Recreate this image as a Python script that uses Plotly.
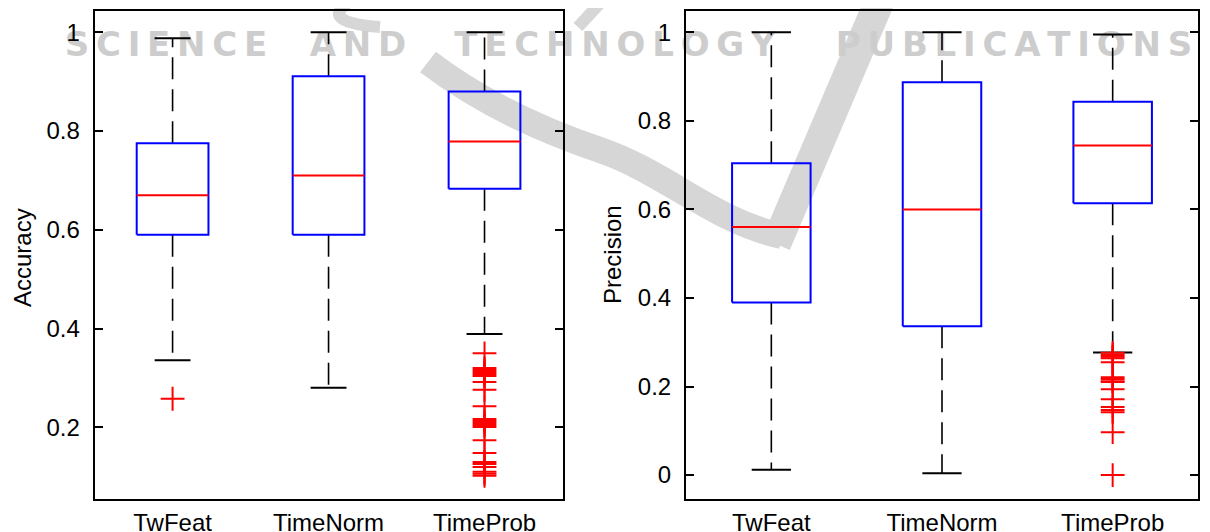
import plotly.graph_objects as go

W, H = 1210, 532          # browser window
OFF = 8                   # default page body margin

# ---------------- data ----------------
categories = ["TwFeat", "TimeNorm", "TimeProb"]
positions = [1, 2, 3]

acc_upper = [0.988, 1.000, 1.000]
acc_q3 = [0.775, 0.911, 0.880]
acc_median = [0.670, 0.710, 0.779]
acc_q1 = [0.590, 0.590, 0.683]
acc_lower = [0.336, 0.280, 0.389]
acc_outliers = [
    [0.258],
    [],
    [0.350, 0.320, 0.316, 0.312, 0.308, 0.304, 0.292, 0.276, 0.243,
     0.217, 0.213, 0.209, 0.205, 0.201, 0.174, 0.148, 0.130, 0.126, 0.120,
     0.110, 0.106, 0.102],
]

prec_upper = [1.000, 1.000, 0.995]
prec_q3 = [0.704, 0.887, 0.843]
prec_median = [0.560, 0.600, 0.744]
prec_q1 = [0.390, 0.336, 0.614]
prec_lower = [0.012, 0.004, 0.277]
prec_outliers = [
    [],
    [],
    [0.276, 0.271, 0.267, 0.264, 0.255, 0.221, 0.217, 0.212, 0.210,
     0.194, 0.171, 0.154, 0.147, 0.142, 0.097, 0.000],
]

acc_tickvals = [0.2, 0.4, 0.6, 0.8, 1.0]
acc_ticktext = ["0.2", "0.4", "0.6", "0.8", "1"]
prec_tickvals = [0.0, 0.2, 0.4, 0.6, 0.8, 1.0]
prec_ticktext = ["0", "0.2", "0.4", "0.6", "0.8", "1"]

watermark_words = ["SCIENCE", "AND", "TECHNOLOGY", "PUBLICATIONS"]

# ---------------- layout constants ----------------
FONT = "Liberation Sans, Arial, sans-serif"
BOX_W = 0.46
CAP_W = 0.23
FW, FH = W - OFF, H - OFF
wm_x = [166, 358, 615, 1014]
wm_y = 47


def px_x(p):
    return (p - OFF) / FW


def px_y(p):
    return 1 - (p - OFF) / FH


fig = go.Figure()

# overlay axes (page pixel coordinates) for the watermark, drawn first (below)
spaced = ["\u2009".join(list(w)) for w in watermark_words]
fig.add_trace(go.Scatter(
    x=wm_x, y=[wm_y] * len(wm_x), text=spaced, mode="text",
    textfont=dict(family="DejaVu Sans", size=34, color="#cdcdcd", weight="bold"),
    textposition="middle center", cliponaxis=False, hoverinfo="skip",
    showlegend=False, xaxis="x", yaxis="y"))


def add_boxes(xa, ya, upper, q3, med, q1, lower, outs):
    bx, by, mx, my, wx, wy, cx, cy, ox, oy = ([] for _ in range(10))
    for i, p in enumerate(positions):
        l, r = p - BOX_W / 2, p + BOX_W / 2
        bx += [l, r, r, l, l, None]
        by += [q1[i], q1[i], q3[i], q3[i], q1[i], None]
        mx += [l, r, None]
        my += [med[i], med[i], None]
        wx += [p, p, None, p, p, None]
        wy += [q3[i], upper[i], None, q1[i], lower[i], None]
        cl, cr = p - CAP_W / 2, p + CAP_W / 2
        cx += [cl, cr, None, cl, cr, None]
        cy += [upper[i], upper[i], None, lower[i], lower[i], None]
        for v in outs[i]:
            ox.append(p)
            oy.append(v)
    common = dict(xaxis=xa, yaxis=ya, showlegend=False, hoverinfo="skip")
    fig.add_trace(go.Scatter(x=wx, y=wy, mode="lines",
                             line=dict(color="black", width=1.6, dash="22px,10px"), **common))
    fig.add_trace(go.Scatter(x=cx, y=cy, mode="lines",
                             line=dict(color="black", width=2), **common))
    fig.add_trace(go.Scatter(x=bx, y=by, mode="lines",
                             line=dict(color="#0000ff", width=2), **common))
    fig.add_trace(go.Scatter(x=mx, y=my, mode="lines",
                             line=dict(color="#ff0000", width=2), **common))
    fig.add_trace(go.Scatter(x=ox, y=oy, mode="markers",
                             marker=dict(symbol="cross-thin", size=17, color="#ff0000",
                                         line=dict(color="#ff0000", width=2)),
                             cliponaxis=False, **common))


add_boxes("x2", "y2", acc_upper, acc_q3, acc_median, acc_q1, acc_lower, acc_outliers)
add_boxes("x3", "y3", prec_upper, prec_q3, prec_median, prec_q1, prec_lower, prec_outliers)

tickfont = dict(family=FONT, size=24, color="black")

xcommon = dict(range=[0.5, 3.5], tickvals=positions, ticktext=categories, ticks="",
               showline=True, mirror=True, linecolor="black", linewidth=2,
               showgrid=False, zeroline=False, tickfont=tickfont, ticklabelstandoff=1,
               fixedrange=True, automargin=False)
ycommon = dict(ticks="inside", ticklen=8, tickwidth=1.5, tickcolor="black",
               showline=True, mirror="ticks", linecolor="black", linewidth=2,
               showgrid=False, zeroline=False, tickfont=tickfont, ticklabelstandoff=8,
               fixedrange=True, automargin=False)

ydom = [px_y(499), px_y(11)]

fig.update_layout(
    width=FW, height=FH,
    margin=dict(l=0, r=0, t=0, b=0),
    paper_bgcolor="white", plot_bgcolor="rgba(0,0,0,0)",
    showlegend=False,
    xaxis=dict(domain=[0, 1], range=[OFF, W], visible=False, fixedrange=True),
    yaxis=dict(domain=[0, 1], range=[H, OFF], visible=False, fixedrange=True),
    xaxis2=dict(domain=[px_x(94.6), px_x(562.5)], anchor="y2", **xcommon),
    yaxis2=dict(domain=ydom, range=[0.055, 1.043], anchor="x2",
                tickvals=acc_tickvals, ticktext=acc_ticktext, **ycommon),
    xaxis3=dict(domain=[px_x(686), px_x(1198)], anchor="y3", **xcommon),
    yaxis3=dict(domain=ydom, range=[-0.054, 1.048], anchor="x3",
                tickvals=prec_tickvals, ticktext=prec_ticktext, **ycommon),
    annotations=[
        dict(text="Accuracy", x=px_x(22), y=px_y(258), xref="paper", yref="paper",
             showarrow=False, textangle=-90, font=tickfont,
             xanchor="center", yanchor="middle"),
        dict(text="Precision", x=px_x(612), y=px_y(255), xref="paper", yref="paper",
             showarrow=False, textangle=-90, font=tickfont,
             xanchor="center", yanchor="middle"),
    ],
)

# watermark swoosh (decorative), in overlay pixel coordinates, below everything
swoosh = [
    ("M 352,0 Q 316,22 380,27", 12),
    ("M 428,62 C 475,98 535,128 600,150 C 665,172 715,222 782,236", 26),
    ("M 776,244 L 880,0", 30),
    ("M 578,27 L 603,0", 12),
]
for path, wdt in swoosh:
    fig.add_shape(type="path", path=path, xref="x", yref="y", layer="below",
                  line=dict(color="#d6d6d6", width=wdt))

fig.write_html("out.html")
